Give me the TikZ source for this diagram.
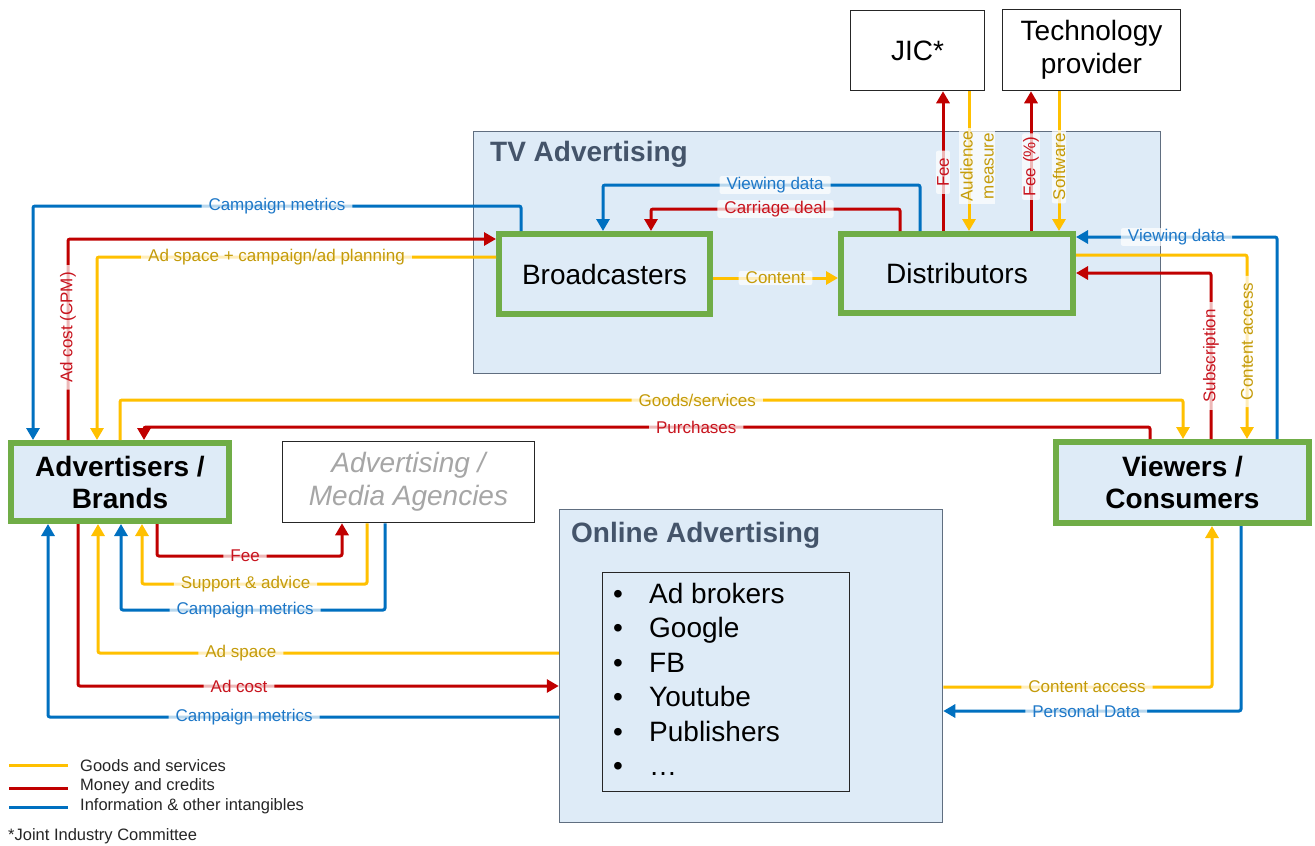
\documentclass[tikz,border=0pt]{standalone}
\usepackage{fontspec}
\setmainfont{Liberation Sans}
\usetikzlibrary{arrows.meta}
\definecolor{cYlw}{RGB}{255,192,0}
\definecolor{cRed}{RGB}{192,0,0}
\definecolor{cBlu}{RGB}{0,112,192}
\definecolor{tYlw}{RGB}{196,155,10}
\definecolor{tBlu}{RGB}{30,120,200}
\definecolor{tRed}{RGB}{200,20,30}
\definecolor{grn}{RGB}{112,173,71}
\definecolor{fillb}{RGB}{222,235,247}
\definecolor{slate}{RGB}{68,84,106}
\definecolor{agray}{RGB}{166,166,166}
\begin{document}
\begin{tikzpicture}[x=1pt,y=-1pt,
  actor/.style={draw=grn, line width=6pt, fill=fillb, inner sep=0pt, align=center, font=\fontsize{28}{32}\selectfont},
  plainbox/.style={draw=black!85, line width=1.5pt, fill=white, inner sep=0pt, align=center, font=\fontsize{28}{33}\selectfont},
  area/.style={draw=slate!85, line width=1.5pt, fill=fillb, inner sep=0pt},
  arw/.style={-{Triangle[length=12pt,width=13pt]}},
  fy/.style={draw=cYlw, line width=3pt, rounded corners=2pt},
  fr/.style={draw=cRed, line width=3pt, rounded corners=2pt},
  fb/.style={draw=cBlu, line width=3pt, rounded corners=2pt},
  lbl/.style={font=\fontsize{17}{21}\selectfont, fill=white, fill opacity=0.72, text opacity=1, inner xsep=7pt, inner ysep=1pt},
  ly/.style={lbl, text=tYlw},
  lr/.style={lbl, text=tRed},
  lb/.style={lbl, text=tBlu},
  item/.style={anchor=base west, font=\fontsize{28}{32}\selectfont, inner sep=0pt},
  leg/.style={anchor=west, font=\fontsize{16.5}{19}\selectfont, text=black!85, inner sep=0pt}
]
\fill[white] (0,0) rectangle (1315,846);
\useasboundingbox (0,0) rectangle (1315,846);

% areas
\node[area, minimum width=687pt, minimum height=242pt] (tv) at (817,252.5) {};
\node[anchor=base west, font=\bfseries\fontsize{28}{32}\selectfont, text=slate, inner sep=0pt] (tvt) at (490,161) {TV Advertising};
\node[area, minimum width=383pt, minimum height=313pt] (onl) at (751,666) {};
\node[anchor=base west, font=\bfseries\fontsize{28}{32}\selectfont, text=slate, inner sep=0pt] (onlt) at (571,542) {Online Advertising};
\node[draw=black!85, line width=1.5pt, minimum width=247pt, minimum height=219pt, inner sep=0pt] (lst) at (726,682) {};
\foreach \t [count=\i] in {Ad brokers,Google,FB,Youtube,Publishers,\dots}{
  \node[item] (it\i) at (649,{568.5+34.5*\i}) {\t};
  \node[anchor=base, font=\fontsize{28}{32}\selectfont, inner sep=0pt] (bu\i) at (618,{568.5+34.5*\i}) {•};
}

% actors
\node[actor, minimum width=211pt, minimum height=80pt] (brd) at (604.5,274) {Broadcasters};
\node[actor, minimum width=232pt, minimum height=79pt] (dst) at (957,273.5) {Distributors};
\node[actor, minimum width=218pt, minimum height=78pt, font=\bfseries\fontsize{28}{32}\selectfont] (adv) at (120,482) {Advertisers /\\Brands};
\node[actor, minimum width=253pt, minimum height=81pt, font=\bfseries\fontsize{28}{32}\selectfont] (vie) at (1182.5,482.5) {Viewers /\\Consumers};
\node[plainbox, minimum width=134pt, minimum height=80pt] (jic) at (917.5,50.5) {JIC*};
\node[plainbox, minimum width=178pt, minimum height=81pt] (tec) at (1091.5,50) {Technology\\provider};
\node[plainbox, minimum width=252pt, minimum height=81pt, text=agray, font=\itshape\fontsize{28}{33}\selectfont] (agc) at (408.5,482) {Advertising /\\Media Agencies};

% TV internal flows
\draw[fy,arw] (brd.east |- 0,278) -- node[ly]{Content} (dst.west |- 0,278);
\draw[fb,arw] (dst.north -| 920,0) -- (920,185) -- node[lb,pos=0.457]{Viewing data} (603,185) -- (brd.north -| 603,0);
\draw[fr,arw] (dst.north -| 900,0) -- (900,209) -- node[lr,pos=0.5]{Carriage deal} (651,209) -- (brd.north -| 651,0);

% top flows
\draw[fr,arw] (dst.north -| 943,0) -- node[lr,rotate=90,pos=0.42]{Fee} (jic.south -| 943,0);
\draw[fy,arw] (jic.south -| 969,0) -- (dst.north -| 969,0);
\node[ly, rotate=90, align=center, inner xsep=3pt] (lam) at (977,166) {Audience\\measure};
\draw[fr,arw] (dst.north -| 1031,0) -- node[lr,rotate=90,pos=0.46,inner xsep=3pt]{Fee (\%)} (tec.south -| 1031,0);
\draw[fy,arw] (tec.south -| 1059,0) -- node[ly,rotate=90,pos=0.54,inner xsep=3pt]{Software} (dst.north -| 1059,0);

% advertisers <-> broadcasters
\draw[fb,arw] (brd.north -| 521,0) -- (521,206) -- node[lb]{Campaign metrics} (33,206) -- (adv.north -| 33,0);
\draw[fr,arw] (adv.north -| 68,0) -- node[lr,rotate=90,pos=0.56]{Ad cost (CPM)} (68,239) -- (brd.west |- 0,239);
\draw[fy,arw] (brd.west |- 0,257) -- node[ly,pos=0.55]{Ad space + campaign/ad planning} (97,257) -- (adv.north -| 97,0);

% advertisers <-> viewers
\draw[fy,arw] (adv.north -| 120,0) -- (120,400) -- node[ly,pos=0.543]{Goods/services} (1183,400) -- (vie.north -| 1183,0);
\draw[fr,arw] (vie.north -| 1150,0) -- (1150,427) -- node[lr,pos=0.451]{Purchases} (144,427) -- (adv.north -| 144,0);

% viewers <-> distributors
\draw[fb,arw] (vie.north -| 1277,0) -- (1277,237) -- node[lb,pos=0.5]{Viewing data} (dst.east |- 0,237);
\draw[fy,arw] (dst.east |- 0,255) -- (1247,255) -- node[ly,rotate=90,pos=0.47]{Content access} (vie.north -| 1247,0);
\draw[fr,arw] (vie.north -| 1211,0) -- node[lr,rotate=90,pos=0.5]{Subscription} (1211,273) -- (dst.east |- 0,273);

% advertisers <-> agencies
\draw[fr,arw] (adv.south -| 157,0) -- (157,556) -- node[lr,pos=0.476]{Fee} (342,556) -- (agc.south -| 342,0);
\draw[fy,arw] (agc.south -| 367,0) -- (367,584) -- node[ly,pos=0.54]{Support \& advice} (142,584) -- (adv.south -| 142,0);
\draw[fb,arw] (agc.south -| 385,0) -- (385,610) -- node[lb,pos=0.53]{Campaign metrics} (121,610) -- (adv.south -| 121,0);

% advertisers <-> online
\draw[fy,arw] (onl.west |- 0,653) -- node[ly,pos=0.69]{Ad space} (98,653) -- (adv.south -| 98,0);
\draw[fr,arw] (adv.south -| 78,0) -- (78,686) -- node[lr,pos=0.335]{Ad cost} (onl.west |- 0,686);
\draw[fb,arw] (onl.west |- 0,717) -- node[lb,pos=0.616]{Campaign metrics} (48,717) -- (adv.south -| 48,0);

% online <-> viewers
\draw[fy,arw] (onl.east |- 0,687) -- node[ly,pos=0.535]{Content access} (1212,687) -- (vie.south -| 1212,0);
\draw[fb,arw] (vie.south -| 1241,0) -- (1241,711) -- node[lb,pos=0.52]{Personal Data} (onl.east |- 0,711);

% legend
\draw[cYlw, line width=3pt] (9,765) -- (68,765);
\draw[cRed, line width=3pt] (9,788) -- (68,788);
\draw[cBlu, line width=3pt] (9,807) -- (68,807);
\node[leg] (lg1) at (80,766) {Goods and services};
\node[leg] (lg2) at (80,786) {Money and credits};
\node[leg] (lg3) at (80,806) {Information \& other intangibles};
\node[leg] (lg4) at (8,836) {*Joint Industry Committee};
\end{tikzpicture}
\end{document}
